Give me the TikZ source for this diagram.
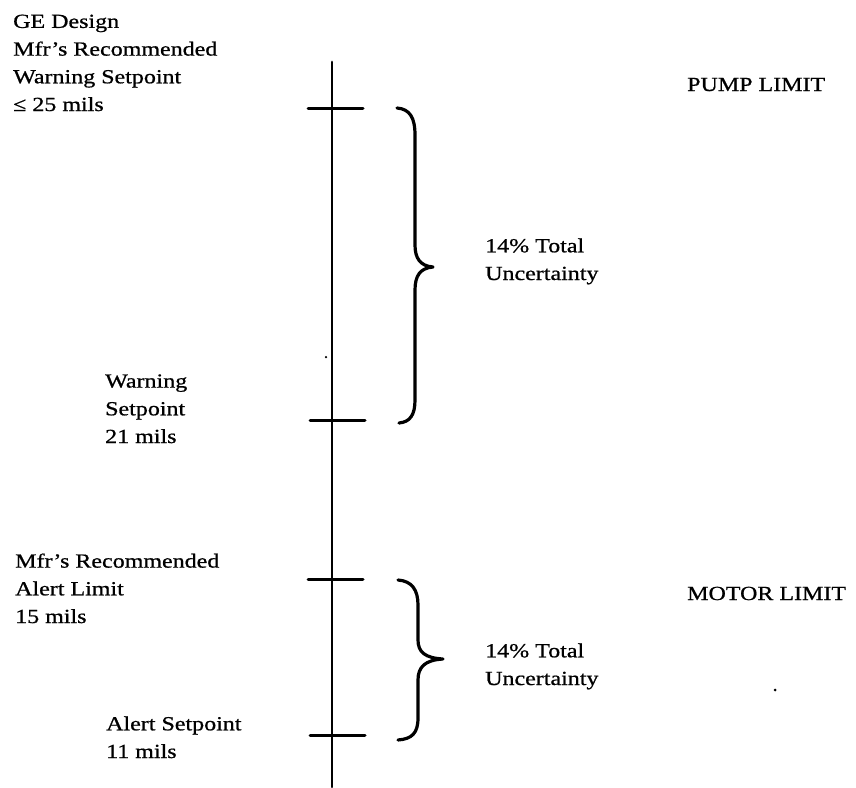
\documentclass[tikz,border=0pt]{standalone}
\usepackage{fontspec}
\setmainfont{Liberation Serif}[FakeStretch=1.2,FakeBold=0.8]
\begin{document}
\begin{tikzpicture}[x=1pt,y=-1pt,
  lbl/.style={anchor=base west, inner sep=0pt, align=left, font=\fontsize{20}{27.7}\selectfont},
  ax/.style={line width=2.8pt, line cap=round},
  tk/.style={line width=3pt, line cap=round},
  brc/.style={line width=3.2pt, line cap=round, line join=round},
  spk/.style={circle, fill=black, inner sep=0pt, minimum size=3pt}]
\useasboundingbox (0,0) rectangle (856,787);
% axis
\coordinate (top) at (332,62);
\coordinate (bot) at (332,787);
\draw[ax] (top) -- (bot);
% ticks
\coordinate (t1l) at (308,108); \coordinate (t1r) at (363,108);
\coordinate (t2l) at (310,420); \coordinate (t2r) at (365,420);
\coordinate (t3l) at (308,579); \coordinate (t3r) at (363,579);
\coordinate (t4l) at (310,735); \coordinate (t4r) at (365,735);
\draw[tk] (t1l) -- (t1r);
\draw[tk] (t2l) -- (t2r);
\draw[tk] (t3l) -- (t3r);
\draw[tk] (t4l) -- (t4r);
% braces
\draw[brc] (397,108) .. controls (410,109) and (415,118) .. (415,135) -- (415,245)
  .. controls (415,258) and (420,266) .. (433,267)
  .. controls (420,268) and (415,276) .. (415,290) -- (415,400)
  .. controls (415,415) and (410,422) .. (399,423);
\draw[brc] (398,580) .. controls (412,581) and (418,590) .. (418,605) -- (418,640)
  .. controls (418,652) and (425,658) .. (443,659)
  .. controls (425,660) and (418,667) .. (418,680) -- (418,718)
  .. controls (418,733) and (412,739) .. (398,740);
% labels (anchor = baseline of the last line)
\node[lbl] (ge) at (13,111) {GE Design\\Mfr’s Recommended\\Warning Setpoint\\≤ 25 mils};
\node[lbl] (warn) at (105,443) {Warning\\Setpoint\\21 mils};
\node[lbl] (alertlim) at (15,623) {Mfr’s Recommended\\Alert Limit\\15 mils};
\node[lbl] (alertsp) at (106,758) {Alert Setpoint\\11 mils};
\node[lbl] (unc1) at (485,280) {14\% Total\\Uncertainty};
\node[lbl] (unc2) at (485,685) {14\% Total\\Uncertainty};
\node[lbl] (pump) at (687,91) {PUMP LIMIT};
\node[lbl] (motor) at (687,600) {MOTOR LIMIT};
% specks
\node[spk] (s1) at (775,690) {};
\node[spk, minimum size=2.5pt] (s2) at (326,357) {};
\end{tikzpicture}
\end{document}
